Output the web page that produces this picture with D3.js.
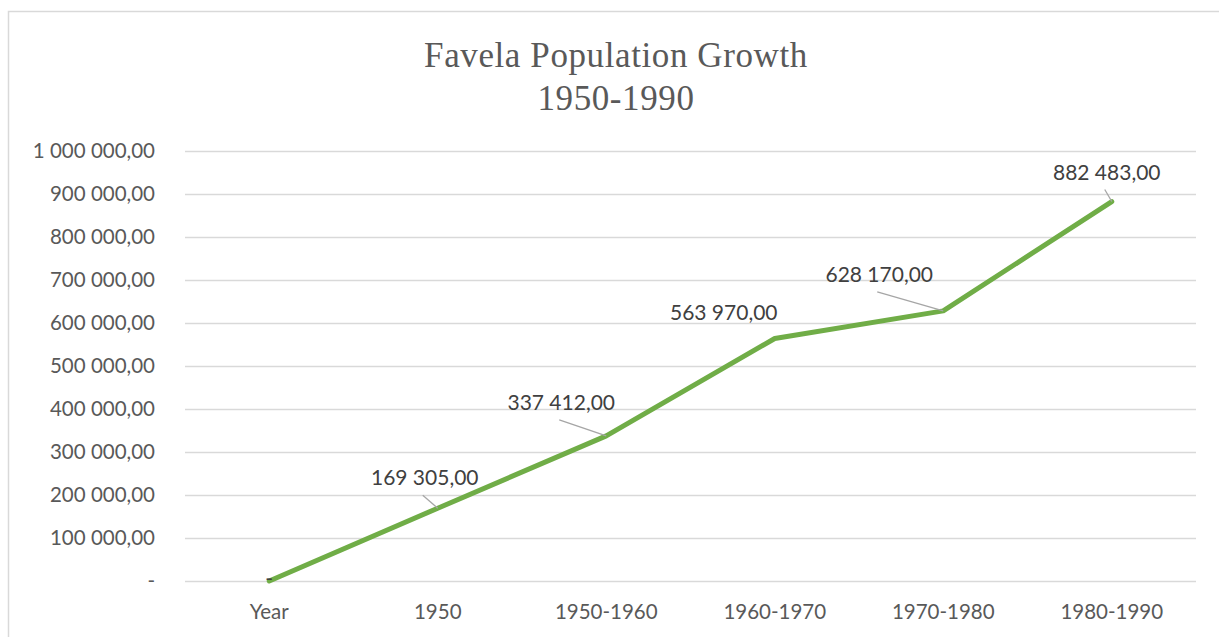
<!DOCTYPE html>
<html>
<head>
<meta charset="utf-8">
<script src="https://cdn.jsdelivr.net/npm/d3@7"></script>
<style>
  body { margin: 0; background: #fff; }
  svg { display: block; }
</style>
</head>
<body>
<div id="chart"></div>
<script>
// chart data
const categories = ["Year", "1950", "1950-1960", "1960-1970", "1970-1980", "1980-1990"];
const population = [0, 169305, 337412, 563970, 628170, 882483];
const yTicks = [0, 100000, 200000, 300000, 400000, 500000, 600000, 700000, 800000, 900000, 1000000];
const titleLines = ["Favela Population Growth", "1950-1990"];

// where each data label sits relative to its point (label centre, baseline) and if it has a leader line
const labelOffset = [[0, 5, false], [-13, -23, true], [-45, -26, true], [-51, -18, false], [-64, -29, true], [-5, -22, true]];

const W = 1219, H = 637;
const plot = { left: 185, right: 1196, top: 151, bottom: 581 };
const sans = "Lato, 'Open Sans', sans-serif";

const svg = d3.select("#chart").append("svg")
    .attr("width", W)
    .attr("height", H);

// outer chart border
svg.append("rect")
    .attr("x", 8.5).attr("y", 11.5)
    .attr("width", W + 20).attr("height", H + 20)
    .attr("fill", "none")
    .attr("stroke", "#d9d9d9")
    .attr("stroke-width", 1.5);

svg.selectAll("text.title")
    .data(titleLines)
    .enter()
    .append("text")
    .attr("class", "title")
    .attr("x", 616)
    .attr("y", (d, i) => 67 + i * 43)
    .attr("text-anchor", "middle")
    .style("font-family", "'Liberation Serif', 'Times New Roman', serif")
    .style("font-size", "35px")
    .style("letter-spacing", "0.6px")
    .style("fill", "#595959")
    .text(d => d);

const x = d3.scaleBand().domain(categories).range([plot.left, plot.right]);
const y = d3.scaleLinear().domain([0, 1000000]).range([plot.bottom, plot.top]);

const fmt = v => v === 0 ? "-" : d3.format(",.2f")(v).replace(/,/g, " ").replace(".", ",");

// gridlines + y labels
const yAxis = d3.axisLeft(y)
    .tickValues(yTicks)
    .tickSize(-(plot.right - plot.left))
    .tickPadding(30)
    .tickFormat(fmt);

const gy = svg.append("g")
    .attr("transform", `translate(${plot.left},0)`)
    .call(yAxis);
gy.select(".domain").remove();
gy.selectAll(".tick line").attr("stroke", "#d9d9d9").attr("stroke-width", 1.3);
gy.selectAll(".tick text")
    .style("font-family", sans)
    .style("font-size", "20.5px")
    .style("fill", "#595959");

// x labels
const xAxis = d3.axisBottom(x).tickSize(0).tickPadding(23);
const gx = svg.append("g")
    .attr("transform", `translate(0,${plot.bottom})`)
    .call(xAxis);
gx.select(".domain").remove();
gx.selectAll(".tick text")
    .style("font-family", sans)
    .style("font-size", "20.5px")
    .style("fill", "#595959");

const points = population.map((v, i) => ({
    v: v,
    px: x(categories[i]) + x.bandwidth() / 2,
    py: y(v),
    off: labelOffset[i]
}));

const line = d3.line()
    .x(d => d.px)
    .y(d => d.py);

svg.append("path")
    .datum(points)
    .attr("d", line)
    .attr("fill", "none")
    .attr("stroke", "#70ad47")
    .attr("stroke-width", 5)
    .attr("stroke-linejoin", "round")
    .attr("stroke-linecap", "round");

// leader lines
svg.selectAll("line.leader")
    .data(points.filter(d => d.off[2]))
    .enter()
    .append("line")
    .attr("class", "leader")
    .attr("x1", d => d.px + d.off[0] - 2)
    .attr("y1", d => d.py + d.off[1] + 10)
    .attr("x2", d => d.px)
    .attr("y2", d => d.py)
    .attr("stroke", "#a6a6a6")
    .attr("stroke-width", 1.3);

svg.selectAll("text.dlabel")
    .data(points)
    .enter()
    .append("text")
    .attr("class", "dlabel")
    .attr("x", d => d.px + d.off[0])
    .attr("y", d => d.py + d.off[1])
    .attr("text-anchor", "middle")
    .style("font-family", sans)
    .style("font-size", "21px")
    .style("fill", "#404040")
    .text(d => fmt(d.v));
</script>
</body>
</html>
